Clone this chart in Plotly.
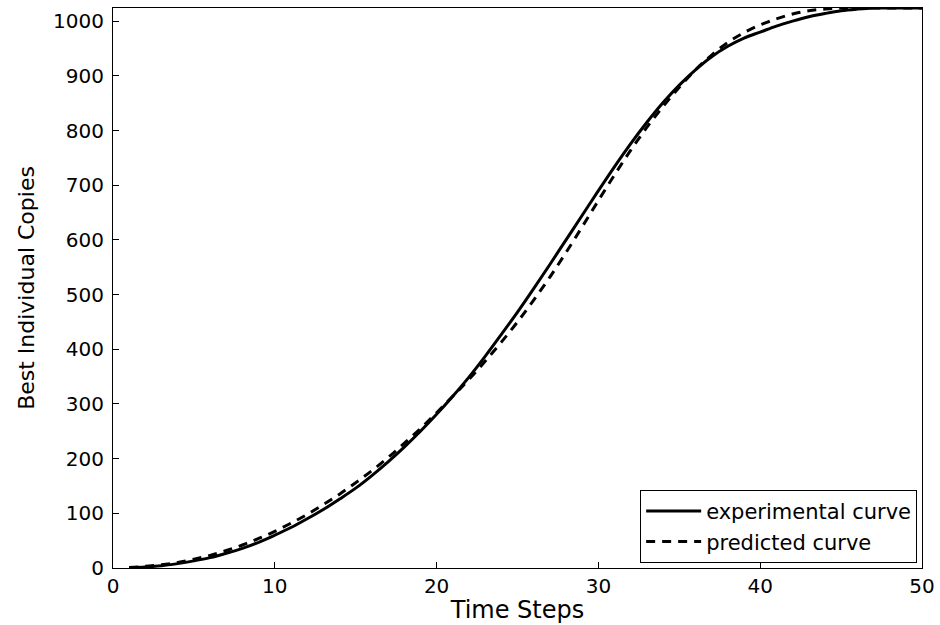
import plotly.graph_objects as go

time_steps = list(range(1, 51))
experimental = [1, 2, 4, 8, 13, 19, 27, 36, 47, 60,
                74, 90, 107, 126, 146, 169, 194, 221, 250, 281,
                314, 349, 387, 427, 468, 511, 555, 600, 645, 690,
                734, 776, 815, 851, 883, 911, 935, 954, 969, 980,
                991, 1000, 1008, 1014, 1019, 1022, 1024, 1024, 1024, 1024]
predicted = [1, 3, 6, 10, 16, 23, 32, 42, 54, 67,
             82, 98, 116, 135, 156, 178, 202, 228, 255, 284,
             314, 345, 378, 413, 450, 490, 532, 577, 624, 672,
             719, 764, 806, 844, 879, 911, 938, 961, 979, 993,
             1004, 1013, 1019, 1022, 1024, 1024, 1024, 1024, 1024, 1024]
x_ticks = [0, 10, 20, 30, 40, 50]
y_ticks = [0, 100, 200, 300, 400, 500, 600, 700, 800, 900, 1000]

FONT = "DejaVu Sans, sans-serif"

fig = go.Figure()
fig.add_trace(go.Scatter(x=time_steps, y=experimental, mode="lines",
                         name="experimental curve",
                         line=dict(color="black", width=3, shape="spline", smoothing=1.0)))
fig.add_trace(go.Scatter(x=time_steps, y=predicted, mode="lines",
                         name="predicted curve",
                         line=dict(color="black", width=3, dash="9px,7px", shape="spline", smoothing=1.0)))

axis_common = dict(showgrid=False, zeroline=False, showline=True, linecolor="black",
                   linewidth=1, mirror=True, ticks="inside", ticklen=6,
                   tickcolor="black", tickfont=dict(family=FONT, size=20, color="black"))

fig.update_layout(
    width=940, height=625,
    margin=dict(l=113, r=18, t=8, b=57),
    paper_bgcolor="white", plot_bgcolor="white",
    font=dict(family=FONT, color="black"),
    xaxis=dict(range=[0, 50], tickvals=x_ticks, automargin=False,
               title=dict(text="Time Steps", font=dict(family=FONT, size=24), standoff=4),
               **axis_common),
    yaxis=dict(range=[0, 1024], tickvals=y_ticks, ticklabelstandoff=4, automargin=False,
               title=dict(text="Best Individual Copies", font=dict(family=FONT, size=22), standoff=12),
               **axis_common),
    legend=dict(x=0.994, y=0.009, xanchor="right", yanchor="bottom",
                bgcolor="white", bordercolor="black", borderwidth=1,
                font=dict(family=FONT, size=21), itemwidth=55,
                tracegroupgap=0),
    showlegend=True,
)

fig.write_html("out.html")
